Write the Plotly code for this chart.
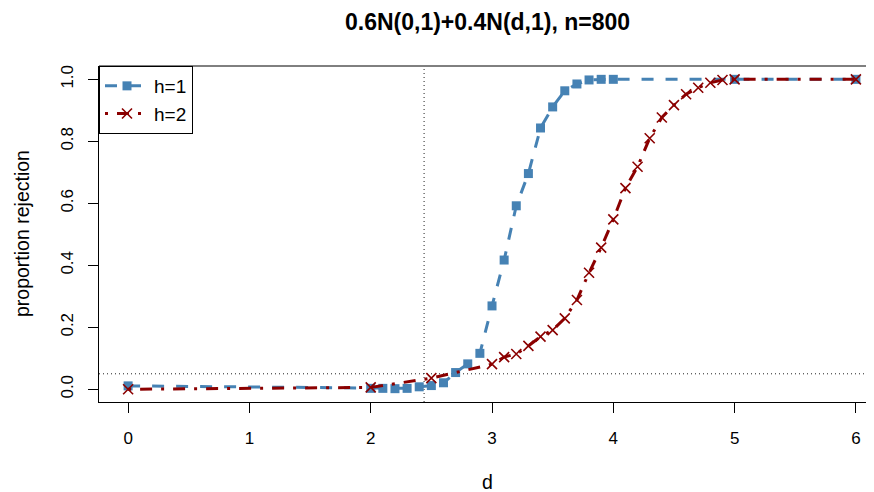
import plotly.graph_objects as go

# ---- data ----
d_h1 = [0, 2.0, 2.1, 2.2, 2.3, 2.4, 2.5, 2.6, 2.7, 2.8, 2.9, 3.0, 3.1, 3.2, 3.3,
        3.4, 3.5, 3.6, 3.7, 3.8, 3.9, 4.0, 5, 6]
p_h1 = [0.011, 0.003, 0.003, 0.002, 0.003, 0.008, 0.012, 0.021, 0.054, 0.082, 0.116,
        0.269, 0.417, 0.592, 0.696, 0.843, 0.911, 0.963, 0.985, 0.998, 1.0, 1.0, 1.0, 1.0]

d_h2 = [0, 2.0, 2.5, 3.0, 3.1, 3.2, 3.3, 3.4, 3.5, 3.6, 3.7, 3.8, 3.9, 4.0, 4.1,
        4.2, 4.3, 4.4, 4.5, 4.6, 4.7, 4.8, 4.9, 5.0, 6]
p_h2 = [0.0, 0.006, 0.036, 0.081, 0.104, 0.114, 0.140, 0.170, 0.191, 0.229, 0.288,
        0.376, 0.457, 0.548, 0.649, 0.718, 0.810, 0.877, 0.917, 0.952, 0.973, 0.989,
        0.998, 1.0, 1.0]

x_ticks = [0, 1, 2, 3, 4, 5, 6]
y_ticks = [0.0, 0.2, 0.4, 0.6, 0.8, 1.0]
alpha_level = 0.05
d_threshold = 2.44

title_text = "0.6N(0,1)+0.4N(d,1), n=800"
x_title = "d"
y_title = "proportion rejection"

BLUE = "#4682B4"
RED = "#8B0000"
FONT = "Liberation Sans, Arial, Helvetica, sans-serif"

fig = go.Figure()
fig.add_trace(go.Scatter(
    x=d_h1, y=p_h1, name="h=1", mode="lines+markers",
    line=dict(color=BLUE, width=3, dash="12px,12px"),
    marker=dict(symbol="square", size=9, color=BLUE),
))
fig.add_trace(go.Scatter(
    x=d_h2, y=p_h2, name="h=2", mode="lines+markers",
    line=dict(color=RED, width=3, dash="3px,9px,12px,9px"),
    marker=dict(symbol="x-thin", size=10, color=RED, line=dict(color=RED, width=1.6)),
))

# reference lines
fig.add_shape(type="line", xref="paper", yref="y", x0=0, x1=1, y0=alpha_level, y1=alpha_level,
              line=dict(color="#222", width=1, dash="1px,3px"), layer="below")
fig.add_shape(type="line", xref="x", yref="paper", x0=d_threshold, x1=d_threshold, y0=0, y1=1,
              line=dict(color="#222", width=1, dash="1px,3px"), layer="below")
# top border of the box
fig.add_shape(type="line", xref="paper", yref="paper", x0=0, x1=1, y0=1, y1=1,
              line=dict(color="black", width=1))

# page has an 8px body margin: figure coordinates = page coordinates - 8
OFF = 8
W, H = 874 - OFF, 492 - OFF
L, R, T, B = 99 - OFF, 0, 66 - OFF, 90
pw = W - L - R
ph = H - T - B
ppu_x = 121.3
x0 = -0.24


def px_x(page_x):
    return (page_x - OFF - L) / pw


def px_y(page_y):
    return (H - B - (page_y - OFF)) / ph


fig.update_layout(
    width=W, height=H,
    margin=dict(l=L, r=R, t=T, b=B),
    paper_bgcolor="white", plot_bgcolor="white",
    font=dict(family=FONT, size=16, color="black"),
    showlegend=True,
    legend=dict(x=0, y=1, xanchor="left", yanchor="top", bgcolor="white",
                bordercolor="black", borderwidth=1, font=dict(size=19),
                tracegroupgap=0, itemwidth=44),
    xaxis=dict(range=[x0, x0 + pw / ppu_x], tickvals=x_ticks, ticktext=[str(v) for v in x_ticks],
               showgrid=False, zeroline=False, showline=True, linecolor="black", linewidth=1,
               ticks="outside", ticklen=10, tickcolor="black", tickwidth=1,
               ticklabelstandoff=11, tickfont=dict(size=17)),
    yaxis=dict(range=[-0.041, 1.043], tickvals=y_ticks, ticktext=[f"{v:.1f}" for v in y_ticks],
               showgrid=False, zeroline=False, showline=True, linecolor="black", linewidth=1,
               ticks="outside", ticklen=10, tickcolor="black", tickwidth=1,
               tickangle=-90, ticklabelstandoff=8, tickfont=dict(size=17)),
    annotations=[
        dict(text=f"<b>{title_text}</b>", xref="paper", yref="paper",
             x=px_x(487.5), y=px_y(22), xanchor="center", yanchor="middle",
             showarrow=False, font=dict(size=23)),
        dict(text=x_title, xref="paper", yref="paper",
             x=px_x(487.5), y=px_y(482), xanchor="center", yanchor="middle",
             showarrow=False, font=dict(size=19.5)),
        dict(text=y_title, xref="paper", yref="paper", textangle=-90,
             x=px_x(22), y=0.5, xanchor="center", yanchor="middle",
             showarrow=False, font=dict(size=19.5)),
    ],
)

fig.write_html("out.html")
